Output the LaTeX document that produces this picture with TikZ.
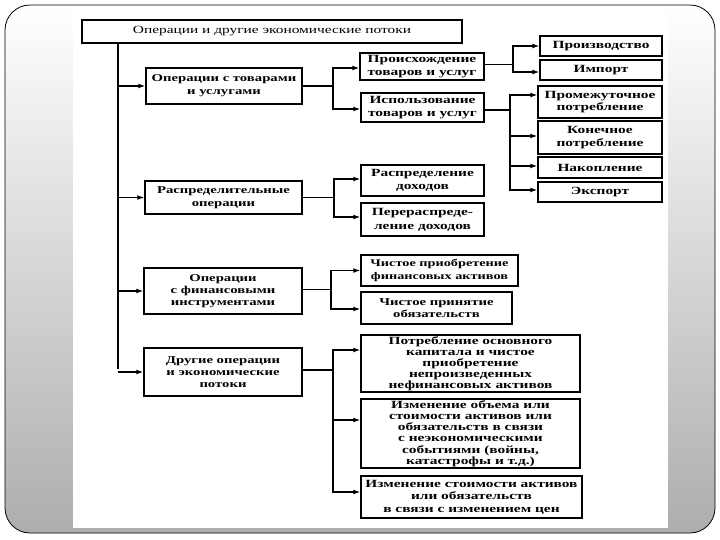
\documentclass[tikz,border=0pt]{standalone}
\usepackage{fontspec}
\setmainfont[FakeStretch=1.4]{Liberation Serif}
\usetikzlibrary{arrows.meta}
\newcommand{\fs}[2]{\bfseries\fontsize{#1}{#2}\selectfont}
\tikzset{
  box/.style={draw, line width=1.5pt, align=center, inner sep=1pt},
  conn/.style={line width=1.2pt},
  thin conn/.style={line width=0.6pt},
  arr/.style={conn, -{Latex[length=7pt,width=5pt]}},
}
\begin{document}
\begin{tikzpicture}[x=1pt,y=-1pt]
\useasboundingbox (0,0) rectangle (720,540);
% slide frame
\shade[top color=white, bottom color=black!32, rounded corners=25pt] (5,5) rectangle (715,533);
\fill[white] (73,12) rectangle (668,528);
\draw[line width=0.8pt, rounded corners=25pt] (5,5) rectangle (715,533);

% boxes
\node[box, font=\fontsize{11}{12}\selectfont, minimum width=380pt, minimum height=23pt] (top) at (272,31.5) {Операции и другие экономические потоки};

\node[box, minimum width=156pt, minimum height=36pt, font=\fs{10.5}{13}] (A1) at (224,86) {Операции с товарами\\и услугами};
\node[box, minimum width=157pt, minimum height=33pt, font=\fs{10.5}{13}] (A2) at (223.5,197.5) {Распределительные\\операции};
\node[box, minimum width=158pt, minimum height=46pt, font=\fs{10.5}{12}] (A3) at (223,291) {Операции\\с финансовыми\\инструментами};
\node[box, minimum width=158pt, minimum height=48pt, font=\fs{10.5}{12}] (A4) at (223,372) {Другие операции\\и экономические\\потоки};

\node[box, minimum width=124pt, minimum height=27pt, font=\fs{11}{12.5}] (B1) at (422,66.5) {Происхождение\\товаров и услуг};
\node[box, minimum width=123pt, minimum height=29pt, font=\fs{11}{12.5}] (B2) at (422.5,107.5) {Использование\\товаров и услуг};
\node[box, minimum width=123pt, minimum height=31pt, font=\fs{11}{13}] (B3) at (422.5,180.5) {Распределение\\доходов};
\node[box, minimum width=123pt, minimum height=33pt, font=\fs{11}{14}] (B4) at (422.5,219.5) {Перераспреде-\\ление доходов};
\node[box, minimum width=157pt, minimum height=31pt, font=\fs{10.2}{12.5}] (B5) at (439.5,270.5) {Чистое приобретение\\финансовых активов};
\node[box, minimum width=151pt, minimum height=32pt, font=\fs{10.5}{12.5}] (B6) at (436.5,308) {Чистое принятие\\обязательств};
\node[box, minimum width=219pt, minimum height=57pt, font=\fs{11}{11}] (B7) at (470.5,363.5) {Потребление основного\\капитала и чистое\\приобретение\\непроизведенных\\нефинансовых активов};
\node[box, minimum width=219pt, minimum height=69pt, font=\fs{11}{11.2}] (B8) at (470.5,433.5) {Изменение объема или\\стоимости активов или\\обязательств в связи\\с неэкономическими\\событиями (войны,\\катастрофы и т.д.)};
\node[box, minimum width=221pt, minimum height=42pt, font=\fs{11}{12.5}] (B9) at (471.5,497) {Изменение стоимости активов\\или обязательств\\в связи с изменением цен};

\node[box, minimum width=122pt, minimum height=20pt, font=\fs{11}{12}] (C1) at (601,46) {Производство};
\node[box, minimum width=122pt, minimum height=20pt, font=\fs{11}{12}] (C2) at (601,70) {Импорт};
\node[box, minimum width=124pt, minimum height=32pt, font=\fs{11}{12.5}] (C3) at (600,102) {Промежуточное\\потребление};
\node[box, minimum width=124pt, minimum height=33pt, font=\fs{11}{13}] (C4) at (600,137.5) {Конечное\\потребление};
\node[box, minimum width=124pt, minimum height=21pt, font=\fs{11}{12}] (C5) at (600,167.5) {Накопление};
\node[box, minimum width=124pt, minimum height=20pt, font=\fs{11}{12}] (C6) at (600,192) {Экспорт};

% main trunk
\coordinate (t0) at (118,42.5);
\coordinate (t1) at (118,369);
\draw[conn] (t0) -- (t1);
\draw[arr] (A1.west -| t0) -- (A1.west);
\draw[arr] (A2.west -| t0) -- (A2.west);
\draw[arr] (A3.west -| t0) -- (A3.west);
\draw[arr] (A4.west -| t0) -- (A4.west);

% fork A1
\coordinate (f1) at (333,86);
\draw[conn] (A1.east) -- (f1);
\draw[arr] (f1) |- ([yshift=-1.5pt]B1.west);
\draw[arr] (f1) |- ([yshift=-1.5pt]B2.west);

% fork B1 (thin)
\coordinate (f2) at (513,64);
\draw[thin conn] ([yshift=2.5pt]B1.east) -- (f2);
\draw[arr] (f2) |- (C1.west);
\draw[arr] (f2) |- ([yshift=-2pt]C2.west);

% fork B2
\coordinate (f3) at (510,110);
\draw[conn] ([yshift=-2.5pt]B2.east) -- (f3);
\draw[arr] (f3) |- ([yshift=7pt]C3.west);
\draw[arr] (f3) |- ([yshift=1.5pt]C4.west);
\draw[arr] (f3) |- ([yshift=1.5pt]C5.west);
\draw[arr] (f3) |- ([yshift=2pt]C6.west);

% fork A2
\coordinate (f4) at (334,197.5);
\draw[conn] (A2.east) -- (f4);
\draw[arr] (f4) |- ([yshift=1.5pt]B3.west);
\draw[arr] (f4) |- ([yshift=2.5pt]B4.west);

% fork A3 (thin)
\coordinate (f5) at (331,289);
\draw[thin conn] ([yshift=2pt]A3.east) -- (f5);
\draw[arr] (f5) |- (B5.west);
\draw[arr] (f5) |- ([yshift=-1pt]B6.west);

% fork A4
\coordinate (f6) at (333,370);
\draw[conn] ([yshift=2pt]A4.east) -- (f6);
\draw[arr] (f6) |- ([yshift=13.5pt]B7.west);
\draw[arr] (f6) |- ([yshift=13.5pt]B8.west);
\draw[arr] (f6) |- ([yshift=5pt]B9.west);
\end{tikzpicture}
\end{document}
